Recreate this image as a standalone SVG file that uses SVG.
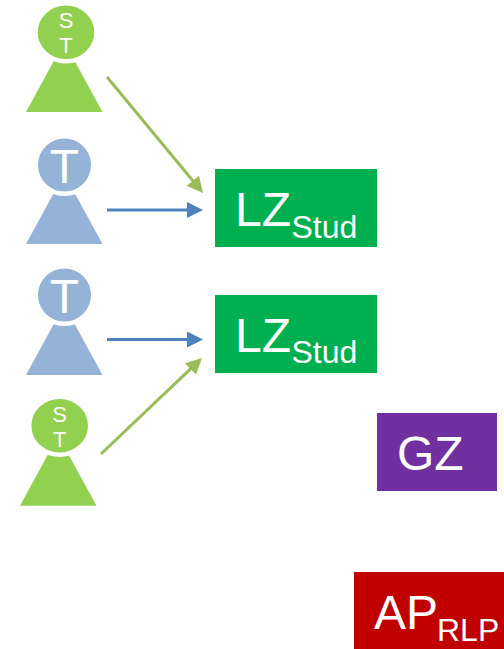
<svg xmlns="http://www.w3.org/2000/svg" width="504" height="649" viewBox="0 0 504 649">
<style>
text{font-family:"Liberation Sans",Arial,sans-serif;fill:#fff}
.g{fill:#92D050}.b{fill:#95B3D7}
.ring{stroke:#fff;stroke-width:4.500}
.m{text-anchor:middle}
.l{font-size:48px}.s{font-size:32px}.t{font-size:22px}
.cg{stroke:#9BBB59;stroke-width:3;fill:none}
.cb{stroke:#4F81BD;stroke-width:3;fill:none}
</style>
<defs>
<marker id="ag" markerUnits="userSpaceOnUse" markerWidth="16" markerHeight="16" refX="2" refY="8" orient="auto"><path d="M0 0L16 8L0 16Z" fill="#9BBB59"/></marker>
<marker id="ab" markerUnits="userSpaceOnUse" markerWidth="16" markerHeight="16" refX="2" refY="8" orient="auto"><path d="M0 0L16 8L0 16Z" fill="#4F81BD"/></marker>
</defs>
<g id="connectors">
<path class="cg" marker-end="url(#ag)" d="M107 77L194.100 182.200"/>
<path class="cb" marker-end="url(#ab)" d="M107 210H189"/>
<path class="cb" marker-end="url(#ab)" d="M107 339.500H189"/>
<path class="cg" marker-end="url(#ag)" d="M101 454L191.850 367.650"/>
</g>
<g id="person1"><path class="g" d="M55.400 58H73L102.500 112H26Z"/><ellipse class="g ring" cx="66" cy="32.300" rx="30.500" ry="29"/><text class="t m" x="66" y="28">S</text><text class="t m" x="66" y="53">T</text></g>
<g id="person2"><path class="b" d="M55.400 190H73L102.500 244H26Z"/><circle class="b ring" cx="64.500" cy="165" r="28.750"/><text class="l m" x="64.500" y="183">T</text></g>
<g id="person3"><path class="b" d="M55.400 321H73L102.500 375H26Z"/><circle class="b ring" cx="64.500" cy="295" r="28.750"/><text class="l m" x="64.500" y="313">T</text></g>
<g id="person4"><path class="g" d="M49.400 451.700H67L96.500 505.700H20Z"/><ellipse class="g ring" cx="59.700" cy="425.700" rx="30.500" ry="29"/><text class="t m" x="59.700" y="421.700">S</text><text class="t m" x="59.700" y="446.700">T</text></g>
<g id="lz1"><rect x="215" y="169" width="162" height="78" fill="#00B050"/><text class="l" x="235" y="226">LZ</text><text class="s" x="291.500" y="238">Stud</text></g>
<g id="lz2"><rect x="215" y="295" width="162" height="78" fill="#00B050"/><text class="l" x="235" y="352">LZ</text><text class="s" x="291.500" y="363">Stud</text></g>
<g id="gz"><rect x="377" y="413" width="120" height="78" fill="#7030A0"/><text class="l" x="397" y="470">GZ</text></g>
<g id="ap"><rect x="354" y="572" width="150" height="77" fill="#C00000"/><text class="l" x="374" y="629">AP</text><text class="s" x="437" y="641">RLP</text></g>
</svg>
